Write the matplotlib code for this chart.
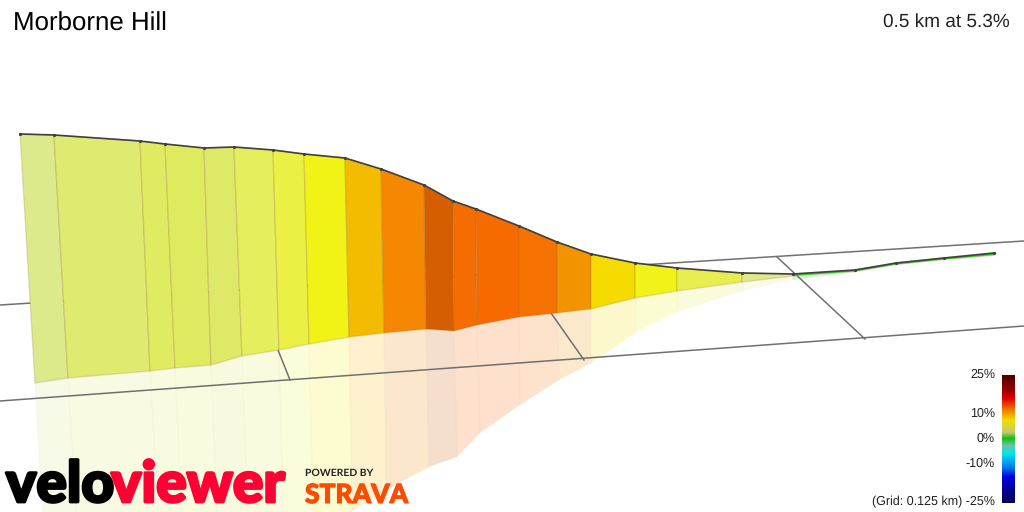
#!/usr/bin/env python3
"""Gradient wall profile of a climb, drawn in picture pixels."""

import matplotlib
matplotlib.use("Agg")
import matplotlib.patheffects as pe
import matplotlib.pyplot as plt
import numpy as np
from matplotlib.colors import LinearSegmentedColormap
from matplotlib.patches import Polygon

title = "Morborne Hill"
summary = "0.5 km at 5.3%"
grid_note = "(Grid: 0.125 km) -25%"

# wall top edge, wall bottom edge, lower edge of the reflection
top_x = [20, 54, 140, 165, 204, 234, 273, 304, 345, 381, 424, 453, 476, 519, 557, 591, 635, 677, 742, 793, 855, 896, 944, 994]
top_y = [134, 135, 141, 144, 148, 147, 150, 154, 158, 169, 185, 201, 209, 226, 242, 254, 263, 268, 273, 274, 270, 263, 258, 253]
base_x = [35, 68, 150, 175, 211, 242, 279, 309, 349, 384, 426, 454, 477, 519, 557, 591, 635, 677, 742, 793, 855, 896, 944, 994]
base_y = [383, 378, 371, 368, 365, 356, 350, 344, 337, 333, 329, 331, 325, 317, 313, 309, 298, 291, 282, 276, 271.5, 264.5, 259.5, 255]
mirror_x = [44, 78, 160, 183, 218, 249, 284, 314, 352, 386, 429, 457, 480, 520, 559, 591, 635, 677, 742, 793, 855, 896, 944, 994]
mirror_y = [540, 540, 540, 540, 540, 540, 540, 540, 511, 490, 467, 457, 433, 405, 380, 363, 333, 312, 291, 280, 272, 265, 260, 256]

segment_colors = [
    "#DDEA8C", "#DFEB70", "#DFEB60", "#DFEB5E", "#DFE968", "#E5EE5C",
    "#EBF045", "#F1F215", "#F3BC00", "#F68700", "#D55E00", "#F56C00",
    "#F76A00", "#F67200", "#F29400", "#F5DB00", "#EFF31A", "#E8EE50",
    "#E2E88A", "#20D820", "#10D810", "#10D810", "#10D810",
]

far_line_x = [0, 1024]
far_line_y = [305, 241]
near_line_x = [0, 1024]
near_line_y = [401, 326]
cross_lines = [((278, 350), (290, 380)), ((551, 313), (584, 360)), ((777, 257), (865, 339))]

scale_ticks = ["25%", "10%", "0%", "-10%"]
scale_tick_y = [375, 414, 439, 464]
scale_pct = [-25, -15, -11, -5.6, -2.7, 0.3, 2.8, 7.4, 11.3, 16, 19, 25]
scale_colors = ["#000050", "#0000E0", "#0080F0", "#00E8E8", "#70C0B0", "#10C010",
                "#C8C870", "#F0E000", "#F08000", "#E00000", "#A00000", "#4D0000"]

plt.rcParams["font.family"] = ["Liberation Sans", "DejaVu Sans"]
plt.rcParams["text.hinting"] = "none"

fig = plt.figure(figsize=(10.24, 5.12), dpi=100)
ax = fig.add_axes([0, 0, 1, 1])
ax.axis("off")

# reflection under each wall segment
for i, color in enumerate(segment_colors):
    pts = [(base_x[i], base_y[i]), (base_x[i + 1], base_y[i + 1]),
           (mirror_x[i + 1], mirror_y[i + 1]), (mirror_x[i], mirror_y[i])]
    ax.add_patch(Polygon(pts, closed=True, facecolor=color, alpha=0.2, edgecolor="none", zorder=1))
    ax.plot([base_x[i], mirror_x[i]], [base_y[i], mirror_y[i]], color=(0.5, 0.5, 0.4, 0.03), lw=1, zorder=1)

# ground grid
ax.plot(far_line_x, far_line_y, color="#707070", lw=1.1, zorder=2)
ax.plot(near_line_x, near_line_y, color="#707070", lw=1.1, zorder=2)
for a, b in cross_lines:
    ax.plot([a[0], b[0]], [a[1], b[1]], color="#707070", lw=1.1, zorder=2)

# wall segments
for i, color in enumerate(segment_colors):
    pts = [(top_x[i], top_y[i]), (top_x[i + 1], top_y[i + 1]),
           (base_x[i + 1], base_y[i + 1]), (base_x[i], base_y[i])]
    ax.add_patch(Polygon(pts, closed=True, facecolor=color, edgecolor="none", zorder=3))
    ax.add_patch(Polygon(pts, closed=True, fill=False, edgecolor=(0.6, 0.45, 0.2, 0.22), lw=1, zorder=3))

ax.plot(top_x, top_y, color="#404040", lw=1.2, marker="o", ms=1.3, zorder=4)

# colour scale
scale_pos = [(p + 25) / 50 for p in scale_pct]
cmap = LinearSegmentedColormap.from_list("gradient", list(zip(scale_pos, scale_colors)))
ramp = np.linspace(1, 0, 128).reshape(-1, 1)
ax.imshow(ramp, cmap=cmap, vmin=0, vmax=1, aspect="auto", extent=(1002, 1015, 503, 375), zorder=5)
for label, y in zip(scale_ticks, scale_tick_y):
    ax.text(995, y, label, ha="right", va="center", fontsize=9, color="#222222")
ax.text(995, 502, grid_note, ha="right", va="center", fontsize=9, color="#222222")

ax.text(13, 24, title, ha="left", va="center", fontsize=18.6, color="black")
ax.text(1010, 22, summary, ha="right", va="center", fontsize=13.7, color="#222222")

# logos
heavy = [pe.withStroke(linewidth=2, foreground="black")]
ax.text(6, 502, "velo", ha="left", va="baseline", family="Lato", weight="black",
        fontsize=41, color="black", path_effects=heavy, zorder=6)
heavy_red = [pe.withStroke(linewidth=2, foreground="#FF0033")]
ax.text(285, 502, "viewer", ha="right", va="baseline", family="Lato", weight="black",
        fontsize=41, color="#FF0033", path_effects=heavy_red, zorder=6)
ax.text(305, 473, "POWERED BY", ha="left", va="center", family="Lato",
        weight="bold", fontsize=7.5, color="#222222", zorder=6)
heavy_orange = [pe.withStroke(linewidth=0.8, foreground="#FC4C02")]
ax.text(305, 503, "STRAVA", ha="left", va="baseline", family="Lato", weight="black",
        fontsize=19, color="#FC4C02", path_effects=heavy_orange, zorder=6)

ax.set_xlim(0, 1024)
ax.set_ylim(512, 0)

plt.savefig("out.png", dpi=100)
